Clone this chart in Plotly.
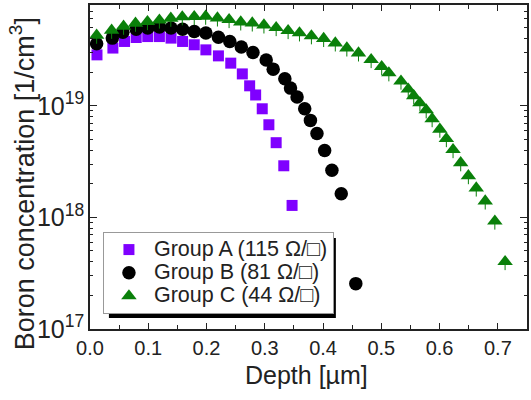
import plotly.graph_objects as go

# ---- data ----
depth_a = [0.012, 0.0393, 0.0593, 0.0793, 0.0991, 0.1191, 0.1391, 0.1589, 0.1789, 0.1989, 0.2204,
           0.2416, 0.2614, 0.274, 0.2843, 0.2956, 0.307, 0.3195, 0.3326, 0.3468]
conc_a = [2.86e19, 3.29e19, 3.77e19, 4.09e19, 4.17e19, 4.17e19, 4.04e19, 3.77e19, 3.52e19, 3.17e19,
          2.80e19, 2.41e19, 1.93e19, 1.51e19, 1.25e19, 9.4e18, 6.76e18, 4.67e18, 2.90e18, 1.28e18]

depth_b = [0.0114, 0.0383, 0.0564, 0.0793, 0.0991, 0.1191, 0.1391, 0.1589, 0.1789, 0.1989, 0.2204,
           0.2399, 0.2597, 0.2797, 0.3024, 0.3144, 0.3344, 0.3441, 0.3554, 0.3685, 0.3783, 0.3895,
           0.4027, 0.4152, 0.4312, 0.4562]
conc_b = [3.59e19, 4.04e19, 4.57e19, 4.86e19, 4.97e19, 5.07e19, 4.97e19, 4.86e19, 4.62e19, 4.48e19,
          4.12e19, 3.77e19, 3.36e19, 3.00e19, 2.57e19, 2.13e19, 1.745e19, 1.44e19, 1.20e19, 9.4e18,
          7.4e18, 5.65e18, 3.98e18, 2.64e18, 1.63e18, 2.55e17]

depth_c = [0.0114, 0.0371, 0.0576, 0.0781, 0.0986, 0.1191, 0.1387, 0.1584, 0.1789, 0.1985, 0.2187,
           0.2387, 0.2587, 0.2785, 0.2985, 0.3195, 0.34, 0.3595, 0.38, 0.401, 0.421, 0.4408, 0.4608,
           0.4825, 0.5006, 0.5129, 0.5337, 0.5462, 0.5556, 0.5662, 0.577, 0.5872, 0.6004, 0.6116,
           0.6231, 0.6362, 0.6494, 0.6629, 0.6783, 0.6948, 0.7124]
conc_c = [4.28e19, 4.74e19, 5.15e19, 5.48e19, 5.67e19, 5.85e19, 6.07e19, 6.26e19, 6.29e19, 6.33e19,
          6.11e19, 5.91e19, 5.63e19, 5.51e19, 5.29e19, 5.01e19, 4.71e19, 4.49e19, 4.23e19, 4.00e19,
          3.65e19, 3.29e19, 2.97e19, 2.59e19, 2.24e19, 1.97e19, 1.66e19, 1.41e19, 1.23e19, 1.06e19,
          9.17e18, 7.65e18, 6.16e18, 5.07e18, 4.04e18, 3.08e18, 2.36e18, 1.83e18, 1.40e18, 9.25e17,
          4.01e17]

names = ["Group A (115 Ω/□)", "Group B (81 Ω/□)", "Group C (44 Ω/□)"]
x_ticks = [0.0, 0.1, 0.2, 0.3, 0.4, 0.5, 0.6, 0.7]
x_ticklabels = ["0.0", "0.1", "0.2", "0.3", "0.4", "0.5", "0.6", "0.7"]

FONT = "Liberation Sans, Arial, sans-serif"
W, H = 531, 400
ML, MR, MT, MB = 90, 2, 5, 71
PW, PH = W - ML - MR, H - MT - MB

def px2paper(px, py):
    return (px - ML) / PW, (H - MB - py) / PH

fig = go.Figure()
fig.add_trace(go.Scatter(
    x=depth_a, y=conc_a, mode="markers", name=f"<span style='font-size:21.5px'>{names[0]}</span>",
    marker=dict(symbol="square", size=11, color="#7f00ff", line=dict(width=0))))
fig.add_trace(go.Scatter(
    x=depth_b, y=conc_b, mode="markers", name=f"<span style='font-size:21.5px'>{names[1]}</span>",
    marker=dict(symbol="circle", size=13.5, color="#000000", line=dict(width=0))))
fig.add_trace(go.Scatter(
    x=depth_c, y=conc_c, mode="markers", name=f"<span style='font-size:21.5px'>{names[2]}</span>",
    marker=dict(symbol="triangle-up", size=13.5, color="#0a800a", line=dict(width=0)),
    error_y=dict(type="percent", symmetric=False, value=0, valueminus=16,
                 color="#0a800a", thickness=1, width=0)))

axis_common = dict(
    showgrid=False, zeroline=False, showline=True, linecolor="#222", linewidth=1.5,
    mirror="ticks", ticks="inside", tickcolor="#222", tickwidth=1,
    tickfont=dict(family=FONT, size=20, color="#222"),
)
fig.update_xaxes(**axis_common, range=[0, 0.75], tickmode="array", tickvals=x_ticks,
                 ticktext=x_ticklabels, ticklen=6,
                 minor=dict(ticks="inside", dtick=0.05, tick0=0, ticklen=4, tickcolor="#222", showgrid=False))
fig.update_yaxes(**axis_common, type="log", range=[17, 19.903], dtick=1, ticklen=7,
                 exponentformat="power", showexponent="all",
                 minor=dict(ticks="inside", dtick="D1", ticklen=3, tickcolor="#222", showgrid=False))

# legend shadow (offset black box behind the legend)
lx0, ly0, lx1, ly1 = 103, 232, 331, 312
sx0, sy0 = px2paper(lx0 + 6, ly0 + 6)
sx1, sy1 = px2paper(lx1 + 6, ly1 + 6)
fig.add_shape(type="rect", xref="paper", yref="paper", x0=sx0, y0=sy1, x1=sx1, y1=sy0,
              fillcolor="black", line=dict(width=0), layer="above")

lgx, lgy = px2paper(lx0, ly0)
fig.update_layout(
    width=W, height=H, margin=dict(l=ML, r=MR, t=MT, b=MB),
    paper_bgcolor="white", plot_bgcolor="white",
    font=dict(family=FONT, size=20, color="#222"),
    showlegend=True,
    legend=dict(x=lgx, y=lgy, xanchor="left", yanchor="top", bgcolor="white",
                bordercolor="#999", borderwidth=1, font=dict(family=FONT, size=15.5, color="#222"),
                itemwidth=40, tracegroupgap=0),
)

# axis titles as annotations for precise placement
tx, ty = px2paper(307.5, 375)
fig.add_annotation(text="Depth [µm]", xref="paper", yref="paper", x=tx, y=ty,
                   xanchor="center", yanchor="middle", showarrow=False,
                   font=dict(family=FONT, size=25, color="#222"))
yx, yy = px2paper(22, 184)
fig.add_annotation(text="Boron concentration [1/cm<sup>3</sup>]", xref="paper", yref="paper",
                   x=yx, y=yy, xanchor="center", yanchor="middle", textangle=-90, showarrow=False,
                   font=dict(family=FONT, size=27, color="#222"))

fig.write_html("out.html", config={"displayModeBar": False},
               post_script="document.body.style.margin='0';")
